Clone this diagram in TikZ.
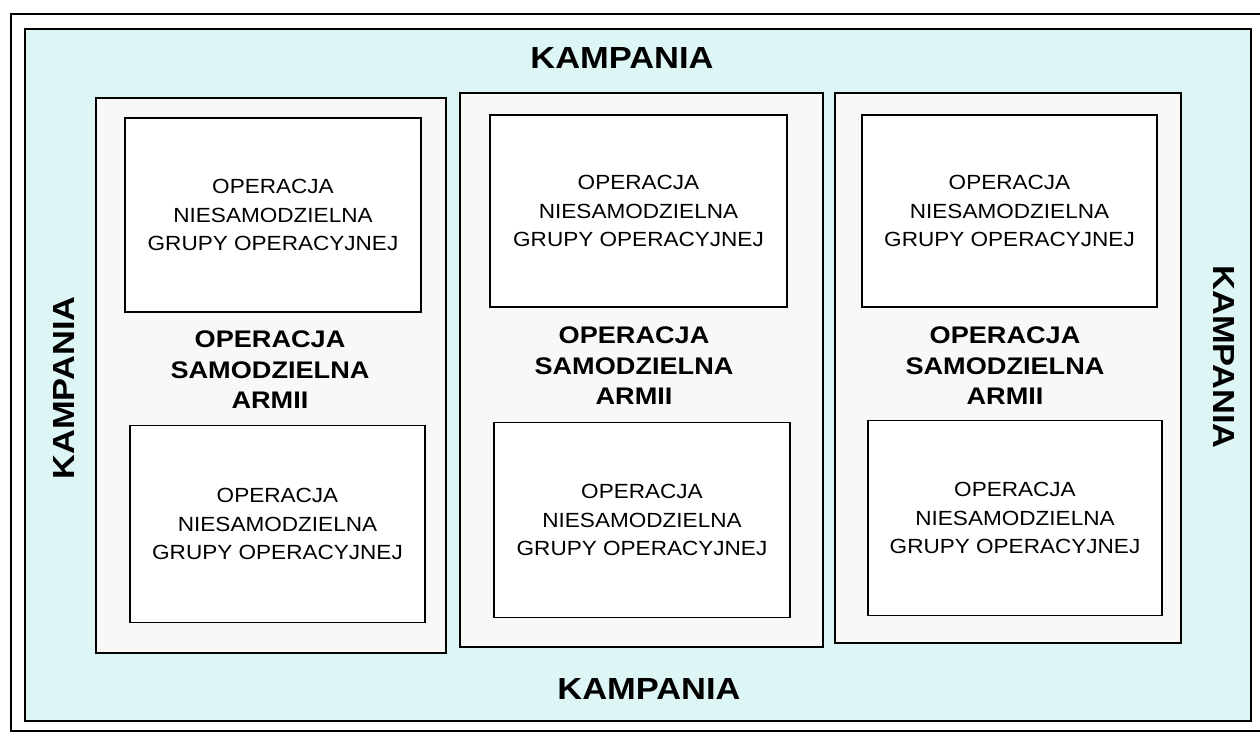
\documentclass[tikz,border=0pt]{standalone}
\usepackage{fontspec}
\setmainfont{Liberation Sans}
\newfontfamily\regwide[FakeStretch=1.10]{Liberation Sans}
\newfontfamily\boldwide[FakeStretch=1.13]{Liberation Sans}
\definecolor{bgcyan}{RGB}{222,245,245}
\definecolor{colfill}{RGB}{248,249,247}
\tikzset{
  frame/.style={draw=black, line width=1.6pt},
  colbox/.style={frame, fill=colfill, inner sep=0pt},
  opbox/.style={frame, fill=white, inner sep=0pt, align=center,
    font=\regwide\fontsize{20.5}{28.5}\selectfont},
  armtext/.style={align=center, font=\boldwide\bfseries\fontsize{24}{30.5}\selectfont},
  camptext/.style={font=\boldwide\bfseries\fontsize{30.5}{34}\selectfont}
}
\begin{document}
\begin{tikzpicture}[x=1pt,y=-1pt]
\useasboundingbox (0,0) rectangle (1260,734);
\fill[white] (0,0) rectangle (1260,734);
% outer frame (right side outside picture)
\coordinate (ftr) at (1262,14);
\coordinate (ftl) at (11,14);
\coordinate (fbl) at (11,731);
\coordinate (fbr) at (1262,731);
\draw[line width=1.2pt] (ftr) -- (ftl) -- (fbl) -- (fbr);
% campaign area
\node[frame, fill=bgcyan, minimum width=1226pt, minimum height=692pt, inner sep=0pt] (camp) at (638,375) {};
% columns
\node[colbox, minimum width=350pt, minimum height=555pt] (col1) at (271,375.5) {};
\node[colbox, minimum width=363pt, minimum height=554pt] (col2) at (641.5,370) {};
\node[colbox, minimum width=346pt, minimum height=550pt] (col3) at (1008,368) {};
% inner operation boxes
\node[opbox, minimum width=296pt, minimum height=194pt] (o1a) at (273,215) {OPERACJA\\NIESAMODZIELNA\\GRUPY OPERACYJNEJ};
\node[opbox, minimum width=295pt, minimum height=197pt] (o1b) at (277.5,524) {OPERACJA\\NIESAMODZIELNA\\GRUPY OPERACYJNEJ};
\node[opbox, minimum width=297pt, minimum height=192pt] (o2a) at (638.5,211) {OPERACJA\\NIESAMODZIELNA\\GRUPY OPERACYJNEJ};
\node[opbox, minimum width=296pt, minimum height=195pt] (o2b) at (642,520) {OPERACJA\\NIESAMODZIELNA\\GRUPY OPERACYJNEJ};
\node[opbox, minimum width=295pt, minimum height=192pt] (o3a) at (1009.5,211) {OPERACJA\\NIESAMODZIELNA\\GRUPY OPERACYJNEJ};
\node[opbox, minimum width=294pt, minimum height=195pt] (o3b) at (1015,518) {OPERACJA\\NIESAMODZIELNA\\GRUPY OPERACYJNEJ};
% army operation labels
\node[armtext] (a1) at (270,370) {OPERACJA\\SAMODZIELNA\\ARMII};
\node[armtext] (a2) at (634,366) {OPERACJA\\SAMODZIELNA\\ARMII};
\node[armtext] (a3) at (1005,366) {OPERACJA\\SAMODZIELNA\\ARMII};
% campaign labels
\node[camptext] (kt) at (622,58) {KAMPANIA};
\node[camptext] (kb) at (649,689) {KAMPANIA};
\node[camptext, rotate=90] (kl) at (64,388) {KAMPANIA};
\node[camptext, rotate=-90] (kr) at (1224,357) {KAMPANIA};
\end{tikzpicture}
\end{document}
